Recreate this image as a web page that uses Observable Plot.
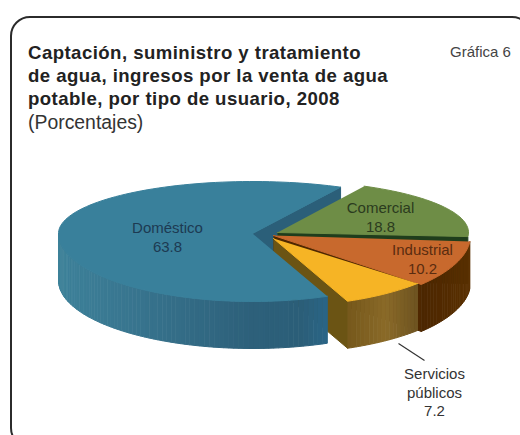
<!DOCTYPE html>
<html lang="es">
<head>
<meta charset="utf-8">
<script src="https://cdn.jsdelivr.net/npm/d3@7"></script>
<script src="https://cdn.jsdelivr.net/npm/@observablehq/plot@0.6"></script>
<style>
  html, body { margin: 0; padding: 0; width: 520px; height: 435px; overflow: hidden; background: #fff; font-family: "Liberation Sans", Arial, sans-serif; }
  #frame { position: absolute; left: 10px; top: 16px; width: 522px; height: 432px; box-sizing: border-box; border: 2px solid #2b2b2b; border-radius: 20px; }
  #chart { position: absolute; left: 0; top: 0; }
  #title { position: absolute; left: 28px; top: 41px; font-size: 18.6px; font-weight: bold; line-height: 23.2px; color: #222; letter-spacing: .45px; white-space: nowrap; }
  #sub { position: absolute; left: 28px; top: 111px; font-size: 19.4px; line-height: 23px; color: #333; white-space: nowrap; }
  #tag { position: absolute; left: 450px; top: 43px; font-size: 15px; color: #444; white-space: nowrap; }
</style>
</head>
<body>
<div id="frame"></div>
<div id="chart"></div>
<div id="title">Captación, suministro y tratamiento<br>de agua, ingresos por la venta de agua<br>potable, por tipo de usuario, 2008</div>
<div id="sub">(Porcentajes)</div>
<div id="tag">Gráfica 6</div>
<script>
// ---- data ----
const categories = ["Doméstico", "Servicios públicos", "Industrial", "Comercial"];
const shares = [63.8, 7.2, 10.2, 18.8];
const valueLabels = ["63.8", "7.2", "10.2", "18.8"];

// ---- pie layout (exploded, tilted 3D) ----
const startDeg = 63;      // upper edge of Doméstico, drawn counter-clockwise
const depth = 47;
const layout = {
  "Doméstico":          {cx: 252, cy: 233, rx: 194, up: 52, down: 68},
  "Servicios públicos": {cx: 273, cy: 238, rx: 192, up: 52, down: 68},
  "Industrial":         {cx: 273, cy: 235, rx: 197, up: 52, down: 74},
  "Comercial":          {cx: 277, cy: 232, rx: 191, up: 52, down: 50}
};
const topColor = {"Doméstico": "#39809b", "Servicios públicos": "#f6b425", "Industrial": "#c8692d", "Comercial": "#6e8d46"};
const wallColor = {"Doméstico": "#2b5f79", "Servicios públicos": "#6b5414", "Industrial": "#4f2800", "Comercial": "#1f3d1c"};
const sideRamp = {
  "Doméstico": d3.scaleLinear().domain([58, 130, 250, 300, 323]).range(["#3d8199", "#38758f", "#2d607a", "#2b5e78", "#2a6484"]),
  "Servicios públicos": d3.scaleLinear().domain([350, 385, 420]).range(["#77591c", "#8a6a28", "#6b5120"]),
  "Industrial": d3.scaleLinear().domain([420, 470]).range(["#4a2500", "#5a3000"])
};
const labelAnchors = {
  "Doméstico": [167, 236], "Servicios públicos": [434, 391], "Industrial": [422, 258], "Comercial": [380, 216]
};
const labelInk = {"Doméstico": "#1d3a52", "Servicios públicos": "#333", "Industrial": "#5a2c10", "Comercial": "#2b3b1e"};
const leader = {x1: 398, y1: 343, x2: 424, y2: 360};

// ---- geometry derived from the values ----
const rad = Math.PI / 180;
let run = startDeg;
const slices = categories.map((name, i) => {
  const sweep = shares[i] * 3.6;
  const s = {name, a0: run, a1: run + sweep};
  run += sweep;
  return s;
});
function rim(s, deg) {
  const g = layout[s.name];
  const sn = Math.sin(deg * rad);
  return [g.cx + g.rx * Math.cos(deg * rad), g.cy - (sn > 0 ? g.up : g.down) * sn];
}
function arc(s) {
  const n = Math.ceil((s.a1 - s.a0) / 2);
  return d3.range(n + 1).map(k => rim(s, s.a0 + (s.a1 - s.a0) * k / n));
}
const apex = s => [layout[s.name].cx, layout[s.name].cy];
const by = name => slices.find(s => s.name === name);

const polys = [];
let pid = 0;
function poly(points, color) {
  const id = pid++;
  points.forEach(([x, y]) => polys.push({x, y, id, color}));
}
const drop = ([x, y]) => [x, y + depth];
function wall(s, deg) {
  const a = apex(s), e = rim(s, deg);
  poly([a, e, drop(e), drop(a)], wallColor[s.name]);
}
function side(s, fromDeg, toDeg) {
  const n = Math.ceil(Math.abs(toDeg - fromDeg) / 1.5);
  for (let k = 0; k < n; k++) {
    const p = rim(s, fromDeg + (toDeg - fromDeg) * k / n);
    const q = rim(s, fromDeg + (toDeg - fromDeg) * (k + 1) / n);
    poly([p, q, drop(q), drop(p)], sideRamp[s.name]((p[0] + q[0]) / 2));
  }
}
function face(s) { poly([apex(s), ...arc(s)], topColor[s.name]); }

const dom = by("Doméstico"), ser = by("Servicios públicos"), ind = by("Industrial"), com = by("Comercial");
// back to front
wall(dom, dom.a0);
wall(com, com.a0);
wall(ind, ind.a0);
side(ind, ind.a0, ind.a1);
wall(ser, ser.a0);
side(ser, ser.a0, ser.a1);
side(dom, 180, dom.a1);
face(dom);
face(com);
face(ind);
face(ser);

const labels = categories.map((name, i) => ({
  x: labelAnchors[name][0],
  y: labelAnchors[name][1],
  text: (name === "Servicios públicos" ? "Servicios\npúblicos" : name) + "\n" + valueLabels[i],
  ink: labelInk[name]
}));

const plot = Plot.plot({
  width: 520,
  height: 435,
  margin: 0,
  x: {domain: [0, 520], range: [0, 520], axis: null},
  y: {domain: [0, 435], range: [0, 435], axis: null},
  color: {type: "identity"},
  style: {background: "transparent", fontFamily: "Liberation Sans, Arial, sans-serif"},
  marks: [
    Plot.line(polys, {x: "x", y: "y", z: "id", fill: "color", stroke: "color", strokeWidth: 1}),
    Plot.link([leader], {x1: "x1", y1: "y1", x2: "x2", y2: "y2", stroke: "#333", strokeWidth: 1.2}),
    Plot.text(labels, {x: "x", y: "y", text: "text", fill: "ink", fontSize: 15, lineHeight: 1.25, lineAnchor: "middle", textAnchor: "middle"})
  ]
});
document.getElementById("chart").appendChild(plot);
</script>
</body>
</html>
